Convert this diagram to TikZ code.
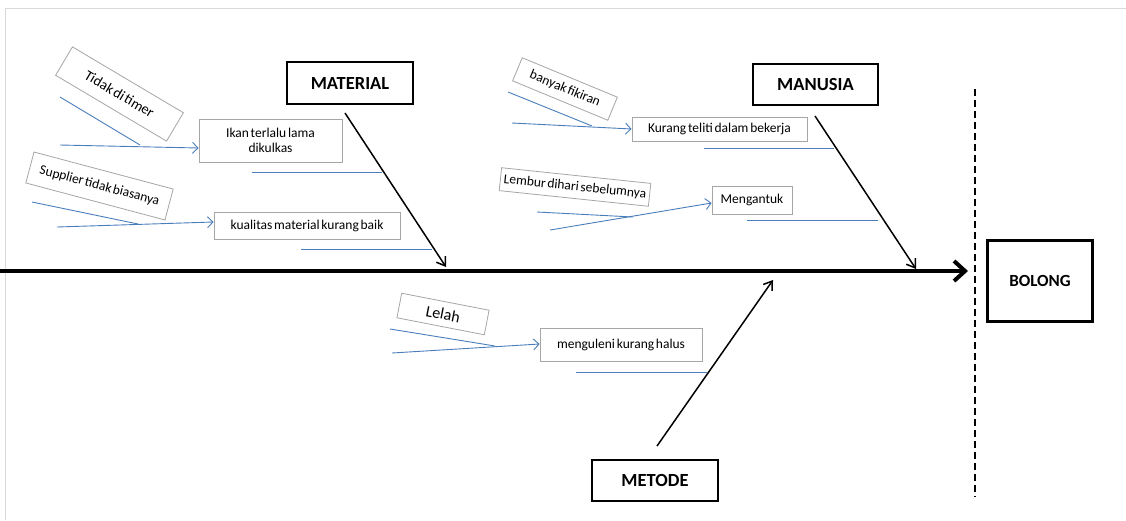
\documentclass[tikz,border=0pt]{standalone}
\usepackage{fontspec}
\setmainfont{Carlito}
\usetikzlibrary{arrows.meta}
\definecolor{xlblue}{RGB}{74,126,187}
\newcommand{\mytightspace}{\spaceskip=0.13em plus 0.05em\relax}
\tikzset{
  cause/.style={draw=black!35, line width=0.8pt, fill=white, inner sep=2pt, align=center, font=\fontsize{13.5}{15}\selectfont\mytightspace},
  catbox/.style={draw=black, line width=2.4pt, inner sep=0pt, font=\fontsize{18.5}{21}\selectfont\bfseries},
  bline/.style={draw=xlblue, line width=0.9pt},
  barrow/.style={bline, -{Straight Barb[length=5.5pt,width=11pt]}},
  karrow/.style={draw=black, line width=1.5pt, -{Straight Barb[length=8pt,width=11pt,line width=1.5pt]}},
}
\begin{document}
\begin{tikzpicture}[x=1pt,y=-1pt]
\useasboundingbox (0,0) rectangle (1126,520);
% frame
\draw[black!15, line width=1pt] (5,520) -- (5,8) -- (1126,8);

% spine
\coordinate (sL) at (0,271);
\coordinate (sR) at (968,271);
\draw[line width=4pt, -{Straight Barb[length=11pt,width=20pt,line width=4pt]}] (sL) -- (sR);
\coordinate (dT) at (975,89);
\coordinate (dB) at (975,497);
\draw[line width=2.2pt, dash pattern=on 7pt off 4pt] (dT) -- (dB);

% effect
\node[catbox, minimum width=105pt, minimum height=81pt, font=\fontsize{17}{20}\selectfont\bfseries] (bolong) at (1040,281) {BOLONG};

% categories
\node[catbox, minimum width=126pt, minimum height=42pt] (material) at (350,83) {MATERIAL};
\node[catbox, minimum width=125pt, minimum height=41pt] (manusia) at (815.5,84.5) {MANUSIA};
\node[catbox, minimum width=126pt, minimum height=41pt] (metode) at (655,480.5) {METODE};

\coordinate (mat0) at (345,113);
\coordinate (mat1) at (446,267);
\coordinate (man0) at (815,116);
\coordinate (man1) at (916,269);
\coordinate (met0) at (657,446);
\coordinate (met1) at (773,280);
\draw[karrow] (mat0) -- (mat1);
\draw[karrow] (man0) -- (man1);
\draw[karrow] (met0) -- (met1);

% MATERIAL causes
\node[cause, minimum width=143pt, minimum height=43pt] (ikan) at (270.5,140.5) {Ikan terlalu lama\\dikulkas};
\node[cause, minimum width=186pt, minimum height=27pt] (kual) at (307,225.5) {kualitas material kurang baik};
\node[cause, rotate=-30.7, minimum width=129pt, minimum height=33pt, font=\fontsize{14.5}{16}\selectfont\mytightspace] (timer) at (119.5,94) {Tidak di timer};
\node[cause, rotate=-14.9, minimum width=144pt, minimum height=32pt] (supp) at (99.5,186) {Supplier tidak biasanya};

\coordinate (t0) at (60,97);
\coordinate (t1) at (140,145);
\coordinate (t2) at (60,145);
\draw[bline] (t0) -- (t1);
\draw[barrow] (t2) -- (ikan.west |- 0,148);
\coordinate (i0) at (252,172);
\coordinate (i1) at (382,172);
\draw[bline] (i0) -- (i1);

\coordinate (s0) at (32,202);
\coordinate (s1) at (138,224);
\coordinate (s2) at (57,227);
\draw[bline] (s0) -- (s1);
\draw[barrow] (s2) -- (kual.west |- 0,222);
\coordinate (k0) at (301,249);
\coordinate (k1) at (432,249);
\draw[bline] (k0) -- (k1);

% MANUSIA causes
\node[cause, minimum width=175pt, minimum height=24pt] (teliti) at (719.5,129) {Kurang teliti dalam bekerja};
\node[cause, minimum width=80pt, minimum height=28pt] (ngantuk) at (752,200) {Mengantuk};
\node[cause, rotate=-22.5, minimum width=103pt, minimum height=25pt] (fikir) at (565,89) {banyak fikiran};
\node[cause, rotate=-6, minimum width=150pt, minimum height=23pt] (lembur) at (575,187) {Lembur dihari sebelumnya};

\coordinate (b0) at (508,92);
\coordinate (b1) at (592,126);
\coordinate (b2) at (512,123);
\draw[bline] (b0) -- (b1);
\draw[barrow] (b2) -- (teliti.west |- 0,129);
\coordinate (tl0) at (704,148);
\coordinate (tl1) at (834,148);
\draw[bline] (tl0) -- (tl1);

\coordinate (l0) at (537,212);
\coordinate (l1) at (633,217);
\coordinate (l2) at (550,230);
\draw[bline] (l0) -- (l1);
\draw[barrow] (l2) -- (ngantuk.west |- 0,203);
\coordinate (m0) at (747,220);
\coordinate (m1) at (878,220);
\draw[bline] (m0) -- (m1);

% METODE causes
\node[cause, minimum width=162pt, minimum height=33pt] (ulen) at (621,344.5) {menguleni kurang halus};
\node[cause, rotate=-11, minimum width=89pt, minimum height=25pt, font=\fontsize{16}{18}\selectfont] (lelah) at (443,314) {Lelah};

\coordinate (e0) at (390,329);
\coordinate (e1) at (495,346);
\coordinate (e2) at (392,353);
\draw[bline] (e0) -- (e1);
\draw[barrow] (e2) -- (ulen.west |- 0,344);
\coordinate (u0) at (576,372);
\coordinate (u1) at (707,372);
\draw[bline] (u0) -- (u1);
\end{tikzpicture}
\end{document}
